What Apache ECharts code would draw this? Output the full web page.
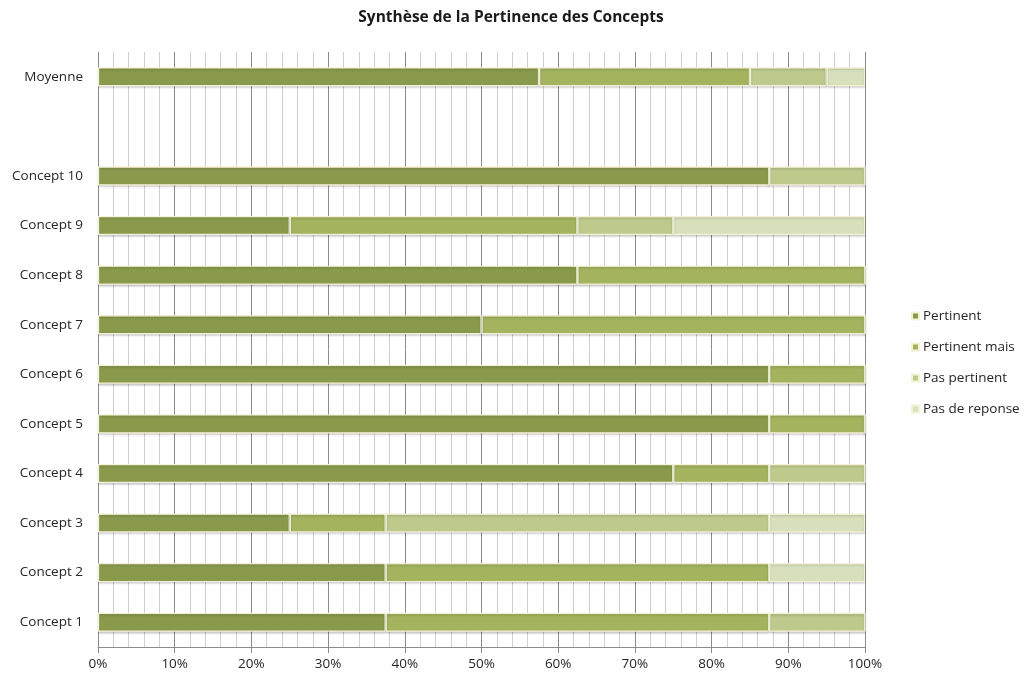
<!DOCTYPE html>
<html>
<head>
<meta charset="utf-8">
<script src="https://cdn.jsdelivr.net/npm/echarts@6/dist/echarts.min.js"></script>
<style>html,body{margin:0;padding:0;background:#fff}#c{width:1024px;height:679px}</style>
</head>
<body>
<div id="c"></div>
<script>
const categories = ['Concept 1','Concept 2','Concept 3','Concept 4','Concept 5','Concept 6','Concept 7','Concept 8','Concept 9','Concept 10','','Moyenne'];
const seriesNames = ['Pertinent','Pertinent mais','Pas pertinent','Pas de reponse'];
const pertinent     = [37.5, 37.5, 25, 75, 87.5, 87.5, 50, 62.5, 25, 87.5, null, 57.5];
const pertinentMais = [50, 50, 12.5, 12.5, 12.5, 12.5, 50, 37.5, 37.5, 0, null, 27.5];
const pasPertinent  = [12.5, 0, 50, 12.5, 0, 0, 0, 0, 12.5, 12.5, null, 10];
const pasDeReponse  = [0, 12.5, 12.5, 0, 0, 0, 0, 0, 25, 0, null, 5];
const colors = ['#8a9a4c', '#a3b35e', '#bdca8c', '#d8e0bb'];
const values = [pertinent, pertinentMais, pasPertinent, pasDeReponse];

const FONT = '"Open Sans", sans-serif';
const chart = echarts.init(document.getElementById('c'));
chart.setOption({
  animation: false,
  title: {
    text: 'Synthèse de la Pertinence des Concepts',
    left: 506, textAlign: 'center', top: 5,
    textStyle: {fontFamily: FONT, fontSize: 15.5, fontWeight: 'bold', color: '#1a1a1a'}
  },
  legend: {
    orient: 'vertical', left: 906, top: 304, itemGap: 17,
    itemWidth: 7, itemHeight: 7, icon: 'rect',
    textStyle: {fontFamily: FONT, fontSize: 13.5, color: '#262626', padding: [0,0,0,-1]},
    data: seriesNames
  },
  grid: {left: 98, right: 159, top: 52, bottom: 32, containLabel: false},
  xAxis: {
    type: 'value', min: 0, max: 100, interval: 10,
    axisLabel: {formatter: '{value}%', fontFamily: FONT, fontSize: 13.5, color: '#262626', margin: 10},
    axisLine: {show: true, lineStyle: {color: '#8c8c8c'}},
    axisTick: {show: true, length: 6, lineStyle: {color: '#8c8c8c'}},
    splitLine: {show: true, lineStyle: {color: '#8c8c8c', width: 1}},
    minorTick: {show: true, splitNumber: 5, length: 0},
    minorSplitLine: {show: true, lineStyle: {color: '#cfcfcf', width: 1}}
  },
  yAxis: {
    type: 'category', data: categories,
    axisLine: {show: true, lineStyle: {color: '#8c8c8c'}},
    axisTick: {show: false},
    axisLabel: {fontFamily: FONT, fontSize: 13.5, color: '#262626', margin: 15}
  },
  series: values.map((v, i) => ({
    name: seriesNames[i], type: 'bar', stack: 'total', barWidth: 19,
    data: v,
    itemStyle: {color: colors[i], borderColor: '#f3f1d6', borderWidth: 1.2,
      shadowColor: 'rgba(0,0,0,0.18)', shadowBlur: 2, shadowOffsetY: 1.5}
  }))
});
</script>
</body>
</html>
